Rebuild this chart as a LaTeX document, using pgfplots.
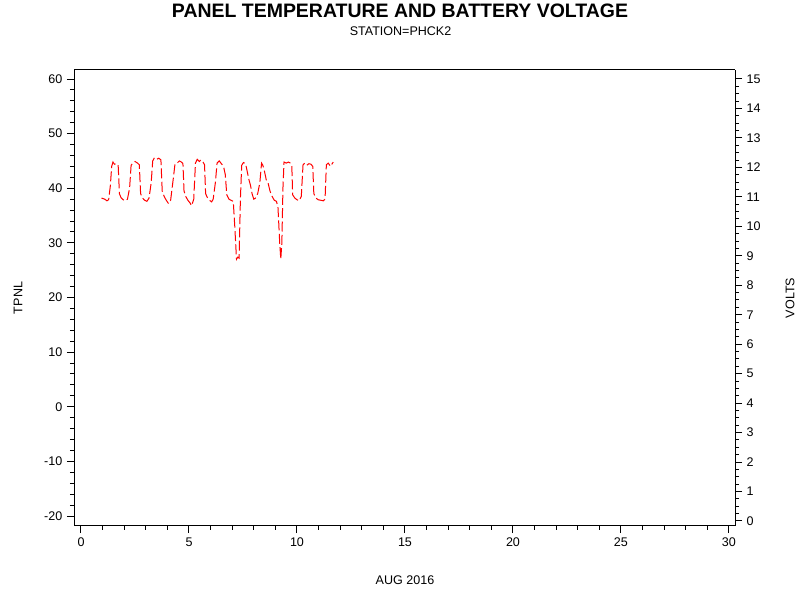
\documentclass[border=0pt]{standalone}
\usepackage{pgfplots}
\pgfplotsset{compat=1.18}
\usepackage{fontspec}
\setmainfont{Liberation Sans}
\begin{document}
\begin{tikzpicture}[x=1pt,y=1pt]
\path[use as bounding box] (0,0) rectangle (600,450);
\pgfplotsset{
  every axis/.append style={
    scale only axis, width=495.75pt, height=342pt,
    at={(55.5pt,55.5pt)}, anchor=south west,
    axis line style={line width=0.75pt},
    tick style={black, line width=0.75pt},
    major tick length=5.25pt, minor tick length=3pt,
    tick align=outside,
    tick label style={font=\fontsize{9.4}{11}\selectfont},
    /pgf/number format/assume math mode=true,
    scaled ticks=false,
  }
}
\begin{axis}[
  xmin=-0.324, xmax=30.28,
  ymin=-21.83, ymax=61.65,
  xtick={0,5,...,30}, minor x tick num=4,
  ytick={-20,-10,...,60}, minor y tick num=4,
  axis x line*=bottom, axis y line*=left,
  xtick pos=bottom, ytick pos=left,
  clip=false,
]
\draw[line width=0.75pt] (rel axis cs:0,1) -- (rel axis cs:1,1);
\addplot[red, line width=0.75pt, dash pattern=on 7.5pt off 2.5pt, mark=none] coordinates {
(0.95,38.2) (1.10,38.0) (1.20,37.7) (1.28,37.9) (1.36,40.5) (1.42,44.0) (1.48,44.8) (1.55,44.4) (1.65,44.5) (1.72,44.3)
(1.78,39.0) (1.85,38.3) (1.95,37.9) (2.05,37.7) (2.15,38.0) (2.25,40.0) (2.32,44.2) (2.40,44.6) (2.50,44.9) (2.62,44.6)
(2.70,44.3) (2.76,39.0) (2.85,38.2) (2.95,37.8) (3.05,37.6) (3.15,38.2) (3.25,41.0) (3.32,45.0) (3.40,45.6) (3.50,45.3)
(3.60,45.5) (3.70,45.2) (3.76,39.5) (3.85,38.5) (3.95,37.8) (4.05,37.2) (4.15,37.8) (4.28,42.0) (4.35,44.4) (4.45,44.6)
(4.55,45.0) (4.65,44.8) (4.72,44.5) (4.77,39.5) (4.85,38.5) (4.95,37.8) (5.05,37.3) (5.12,36.8) (5.22,38.0) (5.30,44.6)
(5.38,45.3) (5.48,44.9) (5.55,45.2) (5.65,44.8) (5.72,44.3) (5.77,39.0) (5.85,38.3) (5.95,37.8) (6.05,37.5) (6.12,38.0)
(6.22,41.0) (6.30,44.6) (6.40,45.0) (6.50,44.5) (6.60,44.0) (6.68,42.5) (6.75,38.8) (6.85,38.0) (6.95,37.8) (7.05,37.6)
(7.12,33.0) (7.20,27.0) (7.26,27.4) (7.32,27.2) (7.38,38.0) (7.44,44.2) (7.52,44.7) (7.62,44.5) (7.70,43.0) (7.78,41.5)
(7.85,40.5) (7.92,39.0) (8.00,38.0) (8.08,38.2) (8.18,39.0) (8.28,41.0) (8.36,44.6) (8.42,44.2) (8.50,43.0) (8.58,41.5)
(8.66,41.0) (8.75,39.5) (8.85,38.5) (8.95,37.8) (9.05,37.6) (9.12,36.5) (9.20,30.0) (9.25,27.0) (9.30,30.0) (9.35,40.0)
(9.40,44.8) (9.50,44.6) (9.60,44.8) (9.70,44.6) (9.76,44.2) (9.80,38.8) (9.90,38.2) (10.00,37.9) (10.10,37.7) (10.20,38.5)
(10.28,44.3) (10.36,44.6) (10.45,44.2) (10.55,44.5) (10.65,44.4) (10.73,44.0) (10.78,39.0) (10.88,38.2) (10.98,37.9) (11.10,37.8)
(11.22,37.7) (11.30,38.0) (11.36,44.3) (11.45,44.6) (11.55,44.0) (11.68,44.8)
};
\end{axis}
\begin{axis}[
  xmin=-0.324, xmax=30.28,
  ymin=-0.17, ymax=15.305,
  ytick={0,1,...,15}, minor y tick num=3,
  axis y line*=right, axis x line=none,
  ytick pos=right,
]
\end{axis}
\node[font=\fontsize{14.6}{16}\selectfont\bfseries] at (300,441.75) {PANEL TEMPERATURE AND BATTERY VOLTAGE};
\node[font=\fontsize{9.4}{11}\selectfont] at (300.4,426.75) {STATION=PHCK2};
\node[font=\fontsize{9.4}{11}\selectfont] at (303.75,15) {AUG 2016};
\node[font=\fontsize{9.4}{11}\selectfont, rotate=90] at (13.5,226.5) {TPNL};
\node[font=\fontsize{9.4}{11}\selectfont, rotate=90] at (592.5,226.5) {VOLTS};
\end{tikzpicture}
\end{document}
